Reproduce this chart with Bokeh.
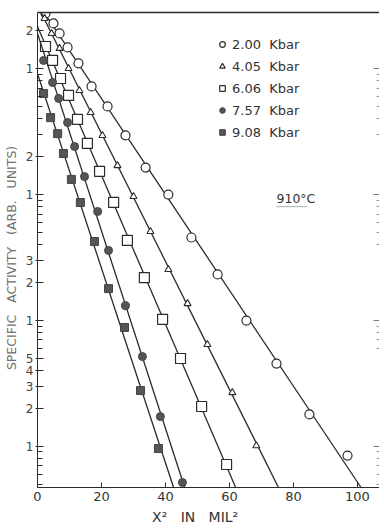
import numpy as np
from bokeh.plotting import figure
from bokeh.models import (FixedTicker, LinearAxis, LogAxis, Range1d, Legend,
                          LegendItem, Label, BoxAnnotation)
from bokeh.embed import file_html
from bokeh.resources import INLINE

# ---- data (x^2 in mil^2, specific activity in arbitrary units) ----
series_labels = ["2.00\u00a0\u00a0Kbar", "4.05\u00a0\u00a0Kbar", "6.06\u00a0\u00a0Kbar",
                 "7.57\u00a0\u00a0Kbar", "9.08\u00a0\u00a0Kbar"]

x_200 = [2.5, 5.0, 6.9, 9.4, 12.8, 16.9, 21.9, 27.5, 33.8, 40.9, 48.1, 56.3, 65.3, 74.7, 85.0, 96.9]
y_200 = [2754, 2291, 1909, 1479, 1104, 724, 502, 295, 164, 100, 45.6, 23.2, 9.97, 4.54, 1.79, 0.843]

x_405 = [2.2, 4.4, 6.9, 9.7, 13.1, 16.6, 20.3, 25.0, 30.0, 35.3, 40.9, 46.9, 53.1, 60.9, 68.4]
y_405 = [2512, 1908, 1452, 1005, 672, 449, 295, 170, 96.6, 50.9, 25.4, 13.6, 6.43, 2.67, 1.01]

x_606 = [2.5, 4.7, 7.2, 9.7, 12.5, 15.6, 19.4, 23.8, 28.1, 33.4, 39.1, 44.7, 51.3, 59.1]
y_606 = [1503, 1164, 837, 614, 396, 255, 153, 86.6, 43.2, 21.9, 10.2, 4.98, 2.07, 0.716]

x_757 = [1.9, 4.7, 6.6, 9.4, 11.6, 14.7, 18.8, 22.2, 27.5, 32.8, 38.4, 45.3]
y_757 = [1164, 778, 581, 374, 241, 139, 73.4, 36.0, 13.1, 5.16, 1.72, 0.515]

x_908 = [1.9, 4.1, 6.3, 8.1, 10.6, 13.4, 17.8, 22.2, 27.2, 32.2, 37.8]
y_908 = [635, 409, 305, 212, 132, 86.5, 42.4, 17.9, 8.79, 2.77, 0.959]

x_ticks = [0, 20, 40, 60, 80, 100]
y_ticks = [1, 2, 3, 4, 5, 10, 20, 30, 100, 200, 1000, 2000]
y_tick_labels = ["1", "2", "3", "4", "5", "1", "2", "3", "1", "2", "1", "2"]
y_minor = [0.5, 0.6, 0.7, 0.8, 0.9, 6, 7, 8, 9, 40, 50, 60, 70, 80, 90,
           300, 400, 500, 600, 700, 800, 900]
y_decades = [1, 10, 100, 1000]

FRAME_W, FRAME_H = 342, 475
X_MIN, X_MAX = 0, 106.9
Y_MIN, Y_MAX = 0.47, 2800

FONT = "DejaVu Sans"
INK = "#2b2b2b"
GREY = "#555555"
NB = "\u00a0"

p = figure(frame_width=FRAME_W, frame_height=FRAME_H, y_axis_type="log",
           x_range=Range1d(X_MIN, X_MAX), y_range=Range1d(Y_MIN, Y_MAX),
           output_backend="svg", toolbar_location=None,
           min_border_left=37, min_border_right=0, min_border_top=12,
           min_border_bottom=42)
p.grid.visible = False
p.outline_line_color = None
p.background_fill_color = "white"

# left axis
ya = p.yaxis[0]
ya.ticker = FixedTicker(ticks=y_ticks, minor_ticks=y_minor)
ya.major_label_overrides = {t: l for t, l in zip(y_ticks, y_tick_labels)}
ya.major_tick_in = 6
ya.major_tick_out = 2
ya.minor_tick_in = 5
ya.minor_tick_out = 0
ya.major_label_standoff = 2
ya.major_label_text_font = FONT
ya.major_label_text_font_size = "12px"
ya.major_label_text_color = "#444444"
ya.axis_line_color = INK
ya.major_tick_line_color = INK
ya.minor_tick_line_color = INK
ya.axis_label = (NB * 3).join(["SPECIFIC", "ACTIVITY", "(ARB.", "UNITS)"]) + NB * 4
ya.axis_label_text_font = FONT
ya.axis_label_text_font_size = "12.5px"
ya.axis_label_text_font_style = "normal"
ya.axis_label_text_color = "#707070"
ya.axis_label_standoff = 4

# bottom axis
xa = p.xaxis[0]
xa.ticker = FixedTicker(ticks=x_ticks)
xa.major_tick_in = 5
xa.major_tick_out = 0
xa.minor_tick_line_color = None
xa.major_label_standoff = 4
xa.major_label_text_font = FONT
xa.major_label_text_font_size = "13px"
xa.major_label_text_color = "#333333"
xa.axis_line_color = INK
xa.major_tick_line_color = INK
xa.axis_label = "X\u00b2" + NB * 3 + "IN" + NB * 3 + "MIL\u00b2" + NB * 6
xa.axis_label_text_font = FONT
xa.axis_label_text_font_size = "14px"
xa.axis_label_text_font_style = "normal"
xa.axis_label_text_color = "#333333"
xa.axis_label_standoff = 5

# right axis (ticks only)
ra = LogAxis(ticker=FixedTicker(ticks=y_decades, minor_ticks=y_minor),
             axis_line_color=None, major_label_text_font_size="0px",
             major_label_standoff=0, major_tick_in=6, major_tick_out=0,
             minor_tick_in=3, minor_tick_out=0,
             major_tick_line_color="#777777", minor_tick_line_color="#999999")
ra.major_label_overrides = {t: "" for t in y_decades}
p.add_layout(ra, "right")

# top border line
ta = LinearAxis(ticker=FixedTicker(ticks=[]), axis_line_color=INK,
                axis_line_width=1.3, major_label_text_font_size="0px",
                major_label_standoff=0, major_tick_in=0, major_tick_out=0,
                minor_tick_line_color=None)
p.add_layout(ta, "above")

series = [
    (x_200, y_200, dict(marker="circle", size=9, fill_color="white", line_color=INK, line_width=1.2)),
    (x_405, y_405, dict(marker="triangle", size=7, fill_color="white", line_color=INK, line_width=1.1)),
    (x_606, y_606, dict(marker="square", size=10, fill_color="white", line_color=INK, line_width=1.2)),
    (x_757, y_757, dict(marker="circle", size=8, fill_color=GREY, line_color="#444444", line_width=1)),
    (x_908, y_908, dict(marker="square", size=8, fill_color=GREY, line_color="#444444", line_width=1)),
]

items = []
for (xs, ys, style), lab in zip(series, series_labels):
    xs_a = np.array(xs, dtype=float)
    ly = np.log10(np.array(ys, dtype=float))
    m, b = np.polyfit(xs_a, ly, 1)
    x_end = (np.log10(Y_MIN) - b) / m
    lx = np.array([X_MIN, x_end])
    p.line(lx, 10 ** (m * lx + b), line_color=INK, line_width=1.3)
    r = p.scatter(xs, ys, **style)
    items.append(LegendItem(label=lab, renderers=[r]))

legend = Legend(items=items, location=(178, 345), orientation="vertical",
                background_fill_alpha=0, border_line_color=None,
                label_text_font=FONT, label_text_font_size="13px",
                label_text_color="#333333", glyph_width=14, glyph_height=20,
                label_height=20, spacing=2, padding=0, margin=0,
                label_standoff=3)
p.add_layout(legend, "center")

# temperature annotation
p.add_layout(Label(x=74.7, y=93.1, text="910\u00b0C", text_font=FONT,
                   text_font_size="12.5px", text_color="#333333",
                   text_baseline="middle", text_align="left"))
p.add_layout(BoxAnnotation(left=74.7, right=84.3, bottom=80.2, top=80.2,
                           fill_alpha=0, line_color=INK, line_width=1.4))

open("out.html", "w").write(file_html(p, INLINE))
